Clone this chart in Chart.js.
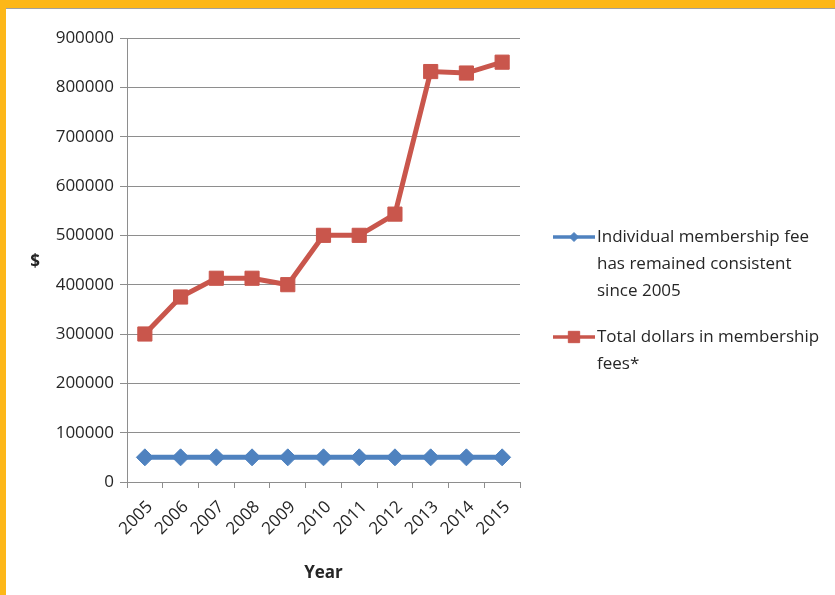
<!DOCTYPE html>
<html lang="en">
<head>
  <meta charset="UTF-8" />
  <title>Membership Fees</title>
  <script src="https://cdn.jsdelivr.net/npm/chart.js"></script>
  <style>
    body {
      margin: 0;
      background: #fff;
    }

    .frame {
      width: 835px;
      height: 595px;
      box-sizing: border-box;
      border-top: 8px solid #fdb718;
      border-left: 6px solid #fdb718;
      background: #fff;
    }

    .chart-box {
      position: relative;
      border-top: 1px solid #a0a0a0;
      width: 829px;
      height: 586px;
    }
  </style>
</head>
<body>
  <div class="frame">
    <div class="chart-box">
      <canvas id="feeChart"></canvas>
    </div>
  </div>

  <script>
    const years = ['2005', '2006', '2007', '2008', '2009', '2010', '2011', '2012', '2013', '2014', '2015'];
    const individualFee = [50000, 50000, 50000, 50000, 50000, 50000, 50000, 50000, 50000, 50000, 50000];
    const totalFees = [300000, 375000, 413000, 413000, 400000, 500000, 500000, 543000, 832000, 829000, 851000];
    const yMax = 900000;
    const yStep = 100000;

    const textColor = '#262626';
    const gridColor = '#8e8e8e';
    const blue = '#4f82bf';
    const red = '#c9564c';
    const fontFamily = "'Open Sans', sans-serif";

    // Legend on the right with wrapped labels, plus the upright "$" caption
    const sideLegend = {
      id: 'sideLegend',
      afterDraw(chart, args, opts) {
        const { ctx, chartArea } = chart;
        ctx.save();
        ctx.textBaseline = 'middle';
        ctx.fillStyle = textColor;

        ctx.font = 'bold 17px ' + fontFamily;
        ctx.textAlign = 'center';
        ctx.fillText(opts.yCaption, chartArea.left - 92, (chartArea.top + chartArea.bottom) / 2 + 2);

        ctx.font = '17px ' + fontFamily;
        ctx.textAlign = 'left';
        const x0 = chartArea.right + opts.left;
        const textX = x0 + opts.lineLength + 2;
        let y = chartArea.top + opts.top;

        chart.data.datasets.forEach(ds => {
          ctx.strokeStyle = ds.borderColor;
          ctx.lineWidth = 3.5;
          ctx.beginPath();
          ctx.moveTo(x0, y);
          ctx.lineTo(x0 + opts.lineLength, y);
          ctx.stroke();

          ctx.fillStyle = ds.pointBackgroundColor;
          ctx.strokeStyle = ds.pointBorderColor;
          ctx.lineWidth = 1;
          Chart.helpers.drawPoint(ctx, {
            pointStyle: ds.pointStyle,
            radius: ds.legendRadius,
            rotation: 0,
            borderWidth: 1
          }, x0 + opts.lineLength / 2, y);

          // wrap label words into lines
          const lines = [];
          let line = '';
          ds.label.split(' ').forEach(word => {
            const test = line ? line + ' ' + word : word;
            if (line && ctx.measureText(test).width > opts.maxWidth) {
              lines.push(line);
              line = word;
            } else {
              line = test;
            }
          });
          lines.push(line);

          ctx.fillStyle = textColor;
          lines.forEach((l, i) => ctx.fillText(l, textX, y + i * opts.lineHeight));
          y += lines.length * opts.lineHeight + opts.gap;
        });
        ctx.restore();
      }
    };

    new Chart(document.getElementById('feeChart'), {
      type: 'line',
      data: {
        labels: years,
        datasets: [{
          label: 'Individual membership fee has remained consistent since 2005',
          data: individualFee,
          borderColor: blue,
          borderWidth: 5,
          pointStyle: 'rectRot',
          pointRadius: 8.5,
          pointBackgroundColor: blue,
          pointBorderColor: blue,
          pointBorderWidth: 1,
          legendRadius: 4.5,
          tension: 0
        }, {
          label: 'Total dollars in membership fees*',
          data: totalFees,
          borderColor: red,
          borderWidth: 5,
          pointStyle: 'rect',
          pointRadius: 10,
          pointBackgroundColor: red,
          pointBorderColor: red,
          pointBorderWidth: 1,
          legendRadius: 8,
          tension: 0
        }]
      },
      options: {
        responsive: true,
        maintainAspectRatio: false,
        animation: false,
        layout: { padding: { top: 29, right: 315, bottom: 12, left: 0 } },
        plugins: {
          legend: { display: false },
          tooltip: { enabled: false },
          sideLegend: {
            yCaption: '$',
            left: 33,
            top: 199,
            lineLength: 42,
            lineHeight: 27,
            gap: 19,
            maxWidth: 228
          }
        },
        scales: {
          x: {
            offset: true,
            grid: { offset: true, drawOnChartArea: false, tickLength: 6, color: gridColor },
            border: { color: gridColor },
            ticks: {
              minRotation: 45,
              maxRotation: 45,
              padding: 9,
              labelOffset: 5,
              color: textColor,
              font: { family: fontFamily, size: 17 }
            },
            title: {
              display: true,
              text: 'Year',
              padding: 0,
              color: textColor,
              font: { family: fontFamily, size: 17, weight: 'bold' }
            },
            afterFit: scale => { scale.height = 101; }
          },
          y: {
            min: 0,
            max: yMax,
            grid: { color: gridColor, tickLength: 7 },
            border: { color: gridColor },
            ticks: {
              stepSize: yStep,
              padding: 6,
              color: textColor,
              font: { family: fontFamily, size: 17 },
              callback: v => String(v)
            },
            afterFit: scale => { scale.width = 121; }
          }
        }
      },
      plugins: [sideLegend]
    });
  </script>
</body>
</html>
